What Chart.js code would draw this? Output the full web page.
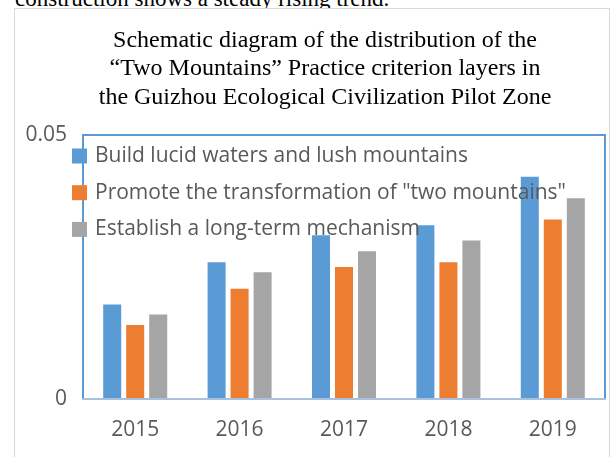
<!DOCTYPE html>
<html>
<head>
<meta charset="utf-8">
<title>Two Mountains practice criterion layers</title>
<script src="https://cdn.jsdelivr.net/npm/chart.js@4.4.1/dist/chart.umd.min.js"></script>
<style>
    html, body { margin: 0; padding: 0; background: #fff; overflow: hidden; }
    body { width: 611px; height: 457px; position: relative; }
    #lead { position: absolute; left: 15px; top: -13px; font: 23px/23px 'Liberation Serif', serif; color: #000; white-space: nowrap; }
    #frame { position: absolute; left: 14px; top: 8px; width: 594px; height: 460px; border: 1px solid #d9d9d9; background: #fff; }
    #chart { position: absolute; left: 0; top: 0; }
</style>
</head>
<body>
<div id="lead">construction shows a steady rising trend.</div>
<div id="frame"></div>
<canvas id="chart" width="611" height="461"></canvas>
<script>
var years = ['2015', '2016', '2017', '2018', '2019'];
var seriesNames = [
    'Build lucid waters and lush mountains',
    'Promote the transformation of "two mountains"',
    'Establish a long-term mechanism'
];
var lucidWaters = [0.0179, 0.0259, 0.0310, 0.0329, 0.0421];
var twoMountains = [0.0140, 0.0209, 0.0250, 0.0259, 0.0340];
var longTerm = [0.0160, 0.0240, 0.0280, 0.0300, 0.0380];
var yMin = 0, yMax = 0.05, yStep = 0.05;
var titleLines = [
    'Schematic diagram of the distribution of the',
    '\u201CTwo Mountains\u201D Practice criterion layers in',
    'the Guizhou Ecological Civilization Pilot Zone'
];

var colors = ['#5b9bd5', '#ed7d31', '#a5a5a5'];
var tickColor = '#595959';

// plot frame + legend drawn on top of the bars, like the original
var frameLegend = {
    id: 'frameLegend',
    afterLayout: function (chart) {
        // the title sits a little right of the plot centre in the original
        chart.titleBlock.left += 9.5;
        chart.titleBlock.right += 9.5;
    },
    afterDatasetsDraw: function (chart) {
        var ctx = chart.ctx, a = chart.chartArea;
        ctx.save();
        ctx.lineWidth = 2;
        ctx.strokeStyle = '#5b9bd5';
        ctx.beginPath();
        ctx.moveTo(a.left, a.bottom);
        ctx.lineTo(a.left, a.top);
        ctx.lineTo(a.right, a.top);
        ctx.lineTo(a.right, a.bottom);
        ctx.stroke();
        ctx.strokeStyle = '#a9c1de';
        ctx.beginPath();
        ctx.moveTo(a.left - 1, a.bottom);
        ctx.lineTo(a.right + 1, a.bottom);
        ctx.stroke();

        ctx.font = '21px "Open Sans"';
        ctx.textBaseline = 'middle';
        ctx.textAlign = 'left';
        chart.data.datasets.forEach(function (ds, i) {
            var y = a.top + 21 + i * 36.7;
            ctx.fillStyle = ds.backgroundColor;
            ctx.fillRect(a.left - 11, y - 7.5, 15, 15);
            ctx.fillStyle = tickColor;
            ctx.fillText(ds.label, a.left + 12, y);
        });
        ctx.restore();
    }
};

var ctx = document.getElementById('chart').getContext('2d');
var chart = new Chart(ctx, {
    type: 'bar',
    data: {
        labels: years,
        datasets: [{
            label: seriesNames[0],
            data: lucidWaters,
            backgroundColor: colors[0]
        }, {
            label: seriesNames[1],
            data: twoMountains,
            backgroundColor: colors[1]
        }, {
            label: seriesNames[2],
            data: longTerm,
            backgroundColor: colors[2]
        }]
    },
    options: {
        responsive: false,
        animation: false,
        categoryPercentage: 0.661,
        barPercentage: 0.783,
        layout: {
            padding: { left: 26, right: 6, top: 0, bottom: 0 }
        },
        plugins: {
            legend: { display: false },
            tooltip: { enabled: false },
            title: {
                display: true,
                text: titleLines,
                color: '#000',
                font: { family: '"Liberation Serif", serif', size: 24, weight: 'normal', lineHeight: 1.1875 },
                padding: { top: 26, bottom: 23.5 }
            }
        },
        scales: {
            x: {
                grid: { display: false, drawTicks: false },
                border: { display: false },
                ticks: {
                    color: tickColor,
                    padding: 19,
                    font: { family: '"Open Sans"', size: 21, lineHeight: 1.14 }
                }
            },
            y: {
                min: yMin,
                max: yMax,
                grid: { display: false, drawTicks: false },
                border: { display: false },
                ticks: {
                    stepSize: yStep,
                    color: tickColor,
                    padding: 16,
                    font: { family: '"Open Sans"', size: 21 }
                },
                afterFit: function (scale) {
                    scale.width = 57;
                }
            }
        }
    },
    plugins: [frameLegend]
});
</script>
</body>
</html>
